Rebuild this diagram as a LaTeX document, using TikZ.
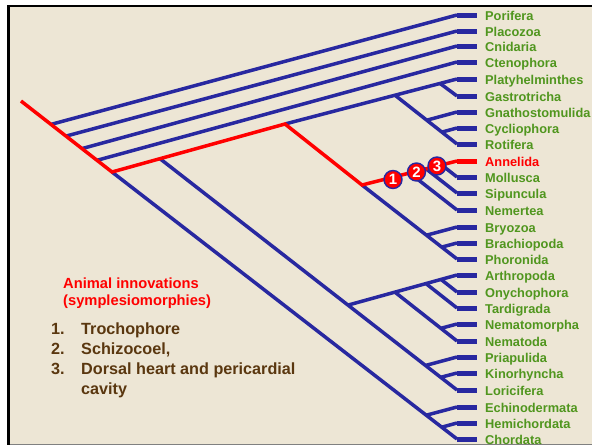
\documentclass[tikz,border=0pt]{standalone}
\usepackage{fontspec}
\setmainfont{Liberation Sans}
\definecolor{bg}{RGB}{237,230,213}
\definecolor{tblue}{RGB}{40,40,160}
\definecolor{tred}{RGB}{255,0,0}
\definecolor{tgreen}{RGB}{80,150,30}
\definecolor{tbrown}{RGB}{90,55,15}
\begin{document}
\begin{tikzpicture}[x=1pt,y=-1pt,
  branch/.style={draw=tblue,line width=3.5pt},
  redbranch/.style={draw=tred,line width=3.5pt,line join=miter},
  leafbar/.style={line width=5pt},
  taxon/.style={anchor=base west,inner sep=0pt,font=\bfseries\fontsize{12.8}{14}\selectfont},
  marker/.style={circle,fill=tred,draw=tblue,line width=1.4pt,minimum size=18pt,inner sep=0pt,text=white,font=\bfseries\fontsize{15}{15}\selectfont},
  notered/.style={anchor=base west,inner sep=0pt,text=tred,font=\bfseries\fontsize{14.7}{16}\selectfont},
  notebrown/.style={anchor=base west,inner sep=0pt,text=tbrown,font=\bfseries\fontsize{16.2}{18}\selectfont},
]
\useasboundingbox (0,0) rectangle (592,447);
\fill[white] (0,0) rectangle (592,447);
\fill[bg] (8.5,6.2) rectangle (592,444.5);
\draw[gray,line width=0.8pt] (8.5,444.5) -- (592,444.5);
\draw[black,line width=2.5pt] (8.5,444.5) -- (8.5,6.2) -- (592,6.2);

% leaves
\foreach \n/\y/\bc/\tc in {
  Porifera/15/tblue/tgreen, Placozoa/31/tblue/tgreen, Cnidaria/46/tblue/tgreen,
  Ctenophora/62/tblue/tgreen, Platyhelminthes/79/tblue/tgreen, Gastrotricha/96/tblue/tgreen,
  Gnathostomulida/112/tblue/tgreen, Cycliophora/128/tblue/tgreen, Rotifera/144/tblue/tgreen,
  Annelida/161/tred/tred, Mollusca/177/tblue/tgreen, Sipuncula/193/tblue/tgreen,
  Nemertea/210/tblue/tgreen, Bryozoa/227/tblue/tgreen, Brachiopoda/243/tblue/tgreen,
  Phoronida/259/tblue/tgreen, Arthropoda/275/tblue/tgreen, Onychophora/292/tblue/tgreen,
  Tardigrada/308/tblue/tgreen, Nematomorpha/324/tblue/tgreen, Nematoda/341/tblue/tgreen,
  Priapulida/357/tblue/tgreen, Kinorhyncha/373/tblue/tgreen, Loricifera/390/tblue/tgreen,
  Echinodermata/407/tblue/tgreen, Hemichordata/423/tblue/tgreen, Chordata/439/tblue/tgreen}{
  \coordinate (s\n) at (457,\y);
  \coordinate (e\n) at (477,\y);
  \node[taxon,text=\tc] (t\n) at (485,\y+5.5) {\n};
}

% internal nodes
\coordinate (root) at (21,101);
\coordinate (B) at (112,172);
\coordinate (P1) at (51,124.4);
\coordinate (P2) at (66,136.1);
\coordinate (P3) at (82,148.6);
\coordinate (P4) at (97,160.3);
\coordinate (D) at (160,158.7);
\coordinate (C) at (285,124);
\coordinate (J) at (362,185);
\coordinate (E) at (395,95.2);
\coordinate (F) at (440,83.4);
\coordinate (G) at (426.8,120.2);
\coordinate (H) at (441.9,132.1);
\coordinate (K) at (409.6,173);
\coordinate (L) at (426,168.8);
\coordinate (M) at (441.6,164.9);
\coordinate (N) at (426.5,235.2);
\coordinate (O) at (441.7,247.1);
\coordinate (Q) at (348,305.1);
\coordinate (S) at (395,292.2);
\coordinate (T) at (426,283.6);
\coordinate (U) at (441,279.4);
\coordinate (V) at (440.9,328.3);
\coordinate (W) at (425.5,365.5);
\coordinate (X) at (440.7,377.3);
\coordinate (Y) at (426.3,415.2);
\coordinate (Z) at (441.7,427.2);

% blue branches
\draw[branch] (P1) -- (sPorifera);
\draw[branch] (P2) -- (sPlacozoa);
\draw[branch] (P3) -- (sCnidaria);
\draw[branch] (P4) -- (sCtenophora);
\draw[branch] (C) -- (sPlatyhelminthes);
\draw[branch] (F) -- (sGastrotricha);
\draw[branch] (E) -- (sRotifera);
\draw[branch] (G) -- (sGnathostomulida);
\draw[branch] (H) -- (sCycliophora);
\draw[branch] (K) -- (sNemertea);
\draw[branch] (L) -- (sSipuncula);
\draw[branch] (M) -- (sMollusca);
\draw[branch] (J) -- (sPhoronida);
\draw[branch] (N) -- (sBryozoa);
\draw[branch] (O) -- (sBrachiopoda);
\draw[branch] (D) -- (sLoricifera);
\draw[branch] (Q) -- (sArthropoda);
\draw[branch] (S) -- (sNematoda);
\draw[branch] (V) -- (sNematomorpha);
\draw[branch] (T) -- (sTardigrada);
\draw[branch] (U) -- (sOnychophora);
\draw[branch] (W) -- (sPriapulida);
\draw[branch] (X) -- (sKinorhyncha);
\draw[branch] (B) -- (sChordata);
\draw[branch] (Y) -- (sEchinodermata);
\draw[branch] (Z) -- (sHemichordata);

% leaf bars
\foreach \n in {Porifera,Placozoa,Cnidaria,Ctenophora,Platyhelminthes,Gastrotricha,
  Gnathostomulida,Cycliophora,Rotifera,Mollusca,Sipuncula,Nemertea,Bryozoa,Brachiopoda,
  Phoronida,Arthropoda,Onychophora,Tardigrada,Nematomorpha,Nematoda,Priapulida,
  Kinorhyncha,Loricifera,Echinodermata,Hemichordata,Chordata}{
  \draw[leafbar,draw=tblue] (s\n) -- (e\n);
}

% red lineage
\draw[redbranch] (root) -- (B) -- (C) -- (J) -- (sAnnelida);
\draw[leafbar,draw=tred] (sAnnelida) -- (eAnnelida);

% innovation markers
\node[marker] (m1) at (393,179.5) {1};
\node[marker] (m2) at (416.5,172) {2};
\node[marker] (m3) at (437,166) {3};

% notes
\node[notered] (inn1) at (63,288) {Animal innovations};
\node[notered] (inn2) at (63,305.5) {(symplesiomorphies)};
\node[notebrown] (n1) at (51,334) {1.};
\node[notebrown] (n2) at (51,354) {2.};
\node[notebrown] (n3) at (51,374) {3.};
\node[notebrown] (i1) at (81,334) {Trochophore};
\node[notebrown] (i2) at (81,354) {Schizocoel,};
\node[notebrown] (i3) at (81,374) {Dorsal heart and pericardial};
\node[notebrown] (i4) at (81,394) {cavity};
\end{tikzpicture}
\end{document}
